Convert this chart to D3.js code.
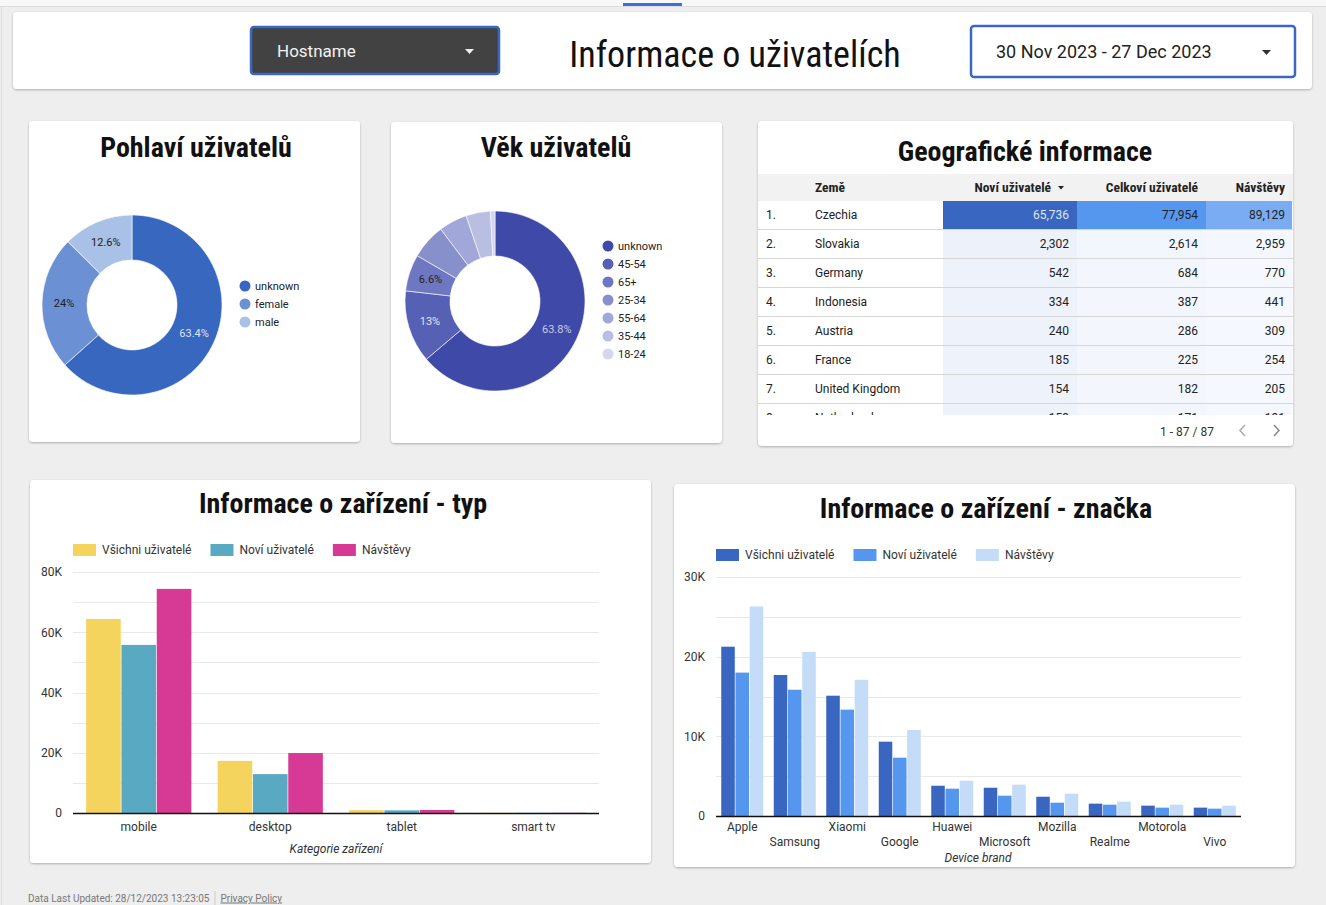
<!DOCTYPE html>
<html><head><meta charset="utf-8">
<script src="https://cdn.jsdelivr.net/npm/d3@7"></script>
<style>
html,body{margin:0;padding:0;background:#eeeeee;}
svg{display:block;}
text{font-family:Roboto,"Noto Sans",sans-serif;}
.cond{font-family:"Roboto Condensed","Liberation Sans Narrow","DejaVu Sans Condensed",sans-serif;}
</style></head><body>
<svg id="c" width="1326" height="905"></svg>
<script>
// ---------- DATA ----------
const pageTitle = "Informace o uživatelích";
const filterLabel = "Hostname";
const dateRange = "30 Nov 2023 - 27 Dec 2023";

const genderLabels = ["unknown", "female", "male"];
const genderValues = [63.4, 24.0, 12.6];

const ageLabels = ["unknown", "45-54", "65+", "25-34", "55-64", "35-44", "18-24"];
const ageValues = [63.8, 13.0, 6.6, 6.3, 5.1, 4.4, 0.8];

const geoHeaders = ["Země", "Noví uživatelé", "Celkoví uživatelé", "Návštěvy"];
const geoCountries = ["Czechia", "Slovakia", "Germany", "Indonesia", "Austria", "France", "United Kingdom", "Netherlands"];
const geoNewUsers = [65736, 2302, 542, 334, 240, 185, 154, 153];
const geoTotalUsers = [77954, 2614, 684, 387, 286, 225, 182, 171];
const geoVisits = [89129, 2959, 770, 441, 309, 254, 205, 191];
const geoPaging = "1 - 87 / 87";

const seriesNames = ["Všichni uživatelé", "Noví uživatelé", "Návštěvy"];

const deviceCategories = ["mobile", "desktop", "tablet", "smart tv"];
const deviceAll = [64400, 17300, 950, 60];
const deviceNew = [55800, 12900, 880, 50];
const deviceVisits = [74400, 19900, 1000, 70];
const deviceTicks = [0, 20000, 40000, 60000, 80000];

const brandCategories = ["Apple", "Samsung", "Xiaomi", "Google", "Huawei", "Microsoft", "Mozilla", "Realme", "Motorola", "Vivo"];
const brandAll = [21250, 17700, 15100, 9330, 3800, 3550, 2420, 1550, 1300, 1050];
const brandNew = [18000, 15850, 13350, 7320, 3430, 2550, 1670, 1420, 1050, 920];
const brandVisits = [26300, 20600, 17100, 10800, 4430, 3930, 2800, 1800, 1420, 1300];
const brandTicks = [0, 10000, 20000, 30000];

const footerText = "Data Last Updated: 28/12/2023 13:23:05";
const footerLink = "Privacy Policy";

// ---------- STYLE ----------
const genderColors = ["#3867c0", "#6b90d3", "#a9c1e6"];
const ageColors = ["#3f4aa8", "#5661b6", "#6e78c2", "#8890cc", "#a1a7d8", "#babee3", "#d3d6ee"];
const deviceColors = ["#f4d45d", "#59a9c2", "#d73a94"];
const brandColors = ["#3866c0", "#5596ee", "#c5dcf8"];
const geoColors = ["#3866c0", "#5596ee", "#79acf2"];
const geoTints = ["#eef2fa", "#f3f7fd", "#f5f8fe"];

const svg = d3.select("#c");
const defs = svg.append("defs");
const f = defs.append("filter").attr("id", "sh").attr("x", "-5%").attr("y", "-5%").attr("width", "110%").attr("height", "115%");
f.append("feDropShadow").attr("dx", 0).attr("dy", 1).attr("stdDeviation", 1).attr("flood-color", "#000").attr("flood-opacity", 0.28);

// page chrome
svg.append("rect").attr("x", 0).attr("y", 0).attr("width", 1326).attr("height", 905).attr("fill", "#eeeeee");
svg.append("rect").attr("x", 0).attr("y", 0).attr("width", 1326).attr("height", 6).attr("fill", "#f8f8f8");
svg.append("line").attr("x1", 0).attr("x2", 1326).attr("y1", 6.5).attr("y2", 6.5).attr("stroke", "#dcdcdc");
svg.append("line").attr("x1", 1.5).attr("x2", 1.5).attr("y1", 6).attr("y2", 905).attr("stroke", "#dcdcdc");
svg.append("rect").attr("x", 623).attr("y", 3).attr("width", 59).attr("height", 3).attr("fill", "#3c6fd8");

function card(x, y, w, h) {
  return svg.append("rect").attr("x", x).attr("y", y).attr("width", w).attr("height", h)
    .attr("rx", 4).attr("fill", "#fff").attr("filter", "url(#sh)");
}

// header
card(13, 12, 1299, 77);
svg.append("rect").attr("x", 251).attr("y", 27).attr("width", 248).attr("height", 47).attr("rx", 3)
  .attr("fill", "#424242").attr("stroke", "#3a67c0").attr("stroke-width", 2.5);
svg.append("text").attr("x", 277).attr("y", 51).attr("dy", "0.35em").attr("fill", "#f2f2f2")
  .style("font-size", "17px").text(filterLabel);
svg.append("path").attr("d", "M465,49 L474,49 L469.5,54 Z").attr("fill", "#eee");
svg.append("text").attr("class", "cond").attr("x", 735).attr("y", 54).attr("dy", "0.35em")
  .attr("text-anchor", "middle").attr("fill", "#111").style("font-size", "36px").text(pageTitle);
svg.append("rect").attr("x", 971).attr("y", 26).attr("width", 324).attr("height", 51).attr("rx", 3)
  .attr("fill", "#fff").attr("stroke", "#3a67c0").attr("stroke-width", 2.5);
svg.append("text").attr("x", 996).attr("y", 52).attr("dy", "0.35em").attr("fill", "#222")
  .style("font-size", "18px").text(dateRange);
svg.append("path").attr("d", "M1262,50 L1271,50 L1266.5,55 Z").attr("fill", "#333");

function cardTitle(cx, cy, t, size) {
  svg.append("text").attr("class", "cond").attr("x", cx).attr("y", cy).attr("dy", "0.35em")
    .attr("text-anchor", "middle").attr("fill", "#111").style("font-size", size + "px")
    .style("font-weight", "bold").text(t);
}
function fmtPct(v) { return (Math.round(v * 10) / 10).toString() + "%"; }

// donut
function donut(cx, cy, labels, values, colors, labelColors, minLabel, legX, legY0, legStep) {
  const g = svg.append("g").attr("transform", `translate(${cx},${cy})`);
  const pie = d3.pie().sort(null).value(d => d)(values);
  const arc = d3.arc().innerRadius(45).outerRadius(90);
  const labArc = d3.arc().innerRadius(68).outerRadius(68);
  g.selectAll("path").data(pie).join("path").attr("d", arc)
    .attr("fill", (d, i) => colors[i]).attr("stroke", "#fff").attr("stroke-width", 0.6);
  g.selectAll("text").data(pie.filter(d => d.data >= minLabel)).join("text")
    .attr("transform", d => `translate(${labArc.centroid(d)})`).attr("dy", "0.35em")
    .attr("text-anchor", "middle").style("font-size", "11px")
    .attr("fill", d => labelColors[d.index]).text(d => fmtPct(d.data));
  const lg = svg.append("g");
  labels.forEach((l, i) => {
    lg.append("circle").attr("cx", legX).attr("cy", legY0 + i * legStep).attr("r", 5.5).attr("fill", colors[i]);
    lg.append("text").attr("x", legX + 10).attr("y", legY0 + i * legStep).attr("dy", "0.35em")
      .attr("fill", "#222").style("font-size", "11px").text(l);
  });
}

card(29, 121, 331, 321);
cardTitle(196, 147, "Pohlaví uživatelů", 28);
donut(132, 305, genderLabels, genderValues, genderColors, ["#dfe4ef", "#222", "#222"], 6.5, 245, 286, 18);

card(391, 122, 331, 321);
cardTitle(556, 147, "Věk uživatelů", 28);
donut(495, 301, ageLabels, ageValues, ageColors,
  ["#c9cde6", "#e3e5f2", "#222", "#222", "#222", "#222", "#222"], 6.5, 608, 246, 18);

// geo table
card(758, 121, 535, 325);
cardTitle(1025, 151, "Geografické informace", 28);
const tg = svg.append("g");
const colEdges = [758, 943, 1077, 1206, 1293];
const rowH = 29, row0 = 201;
defs.append("clipPath").attr("id", "tclip").append("rect").attr("x", 758).attr("y", 174).attr("width", 535).attr("height", 241);
const tb = tg.append("g").attr("clip-path", "url(#tclip)");
tb.append("rect").attr("x", 758).attr("y", 174).attr("width", 535).attr("height", 27).attr("fill", "#f2f2f2");
const cols = [geoNewUsers, geoTotalUsers, geoVisits];
const fmt = d3.format(",");
geoCountries.forEach((c, r) => {
  const y = row0 + r * rowH;
  const ty = y + 14;
  cols.forEach((arr, ci) => {
    const mx = d3.max(arr);
    const t = arr[r] / mx;
    const col = t > 0.5 ? geoColors[ci] : d3.interpolateRgb(geoTints[ci], geoColors[ci])(t * 0.15);
    tb.append("rect").attr("x", colEdges[ci + 1]).attr("y", y).attr("width", colEdges[ci + 2] - colEdges[ci + 1] - (ci === 2 ? 1 : 0))
      .attr("height", rowH).attr("fill", col);
    tb.append("text").attr("x", colEdges[ci + 2] - 8).attr("y", ty).attr("dy", "0.35em")
      .attr("text-anchor", "end").style("font-size", "12px")
      .attr("fill", (t > 0.5 && ci === 0) ? "#dfe6f5" : "#222").text(fmt(arr[r]));
  });
  tb.append("text").attr("x", 766).attr("y", ty).attr("dy", "0.35em").style("font-size", "12px").attr("fill", "#222").text((r + 1) + ".");
  tb.append("text").attr("x", 815).attr("y", ty).attr("dy", "0.35em").style("font-size", "12px").attr("fill", "#222").text(c);
  tb.append("line").attr("x1", 758).attr("x2", 1293).attr("y1", y + rowH - 0.5).attr("y2", y + rowH - 0.5).attr("stroke", "#d6d6d6");
});
const hy = 187.5;
tb.append("text").attr("class", "cond").attr("x", 815).attr("y", hy).attr("dy", "0.35em").style("font-size", "13.5px").style("font-weight", "bold").attr("fill", "#222").text(geoHeaders[0]);
tb.append("text").attr("class", "cond").attr("x", 1051).attr("y", hy).attr("dy", "0.35em").attr("text-anchor", "end").style("font-size", "13.5px").style("font-weight", "bold").attr("fill", "#222").text(geoHeaders[1]);
tb.append("path").attr("d", "M1058,186 L1064,186 L1061,189.5 Z").attr("fill", "#222");
tb.append("text").attr("class", "cond").attr("x", 1198).attr("y", hy).attr("dy", "0.35em").attr("text-anchor", "end").style("font-size", "13.5px").style("font-weight", "bold").attr("fill", "#222").text(geoHeaders[2]);
tb.append("text").attr("class", "cond").attr("x", 1285).attr("y", hy).attr("dy", "0.35em").attr("text-anchor", "end").style("font-size", "13.5px").style("font-weight", "bold").attr("fill", "#222").text(geoHeaders[3]);
tg.append("text").attr("x", 1214).attr("y", 432).attr("dy", "0.35em").attr("text-anchor", "end").style("font-size", "12px").attr("fill", "#333").text(geoPaging);
tg.append("path").attr("d", "M1245,425 L1240,430.5 L1245,436").attr("fill", "none").attr("stroke", "#aaa").attr("stroke-width", 1.5);
tg.append("path").attr("d", "M1274,425 L1279,430.5 L1274,436").attr("fill", "none").attr("stroke", "#888").attr("stroke-width", 1.5);

// grouped bar chart
function barChart(o) {
  const x0 = d3.scaleBand().domain(o.cats).range([o.x0, o.x1]).paddingInner(0.2).paddingOuter(0.1);
  const x1 = d3.scaleBand().domain(d3.range(3)).range([0, x0.bandwidth()]).paddingInner(o.inner);
  const y = d3.scaleLinear().domain([0, o.max]).range([o.yb, o.yt]);
  const g = svg.append("g");
  d3.range(0, o.max + 1, o.gridStep).forEach(v => {
    if (v === 0) return;
    g.append("line").attr("x1", o.x0).attr("x2", o.x1).attr("y1", Math.round(y(v)) + 0.5).attr("y2", Math.round(y(v)) + 0.5)
      .attr("stroke", "#e9e9e9");
  });
  const ax = d3.axisLeft(y).tickValues(o.ticks).tickSize(0).tickPadding(11).tickFormat(v => v === 0 ? "0" : (v / 1000) + "K");
  const ag = g.append("g").attr("transform", `translate(${o.x0},0)`).call(ax);
  ag.select(".domain").remove();
  ag.selectAll("text").style("font-size", "12px").attr("fill", "#333").style("font-family", "Roboto,sans-serif");
  o.series.forEach((s, si) => {
    g.selectAll(null).data(s).join("rect")
      .attr("x", (d, i) => x0(o.cats[i]) + x1(si)).attr("width", x1.bandwidth())
      .attr("y", d => y(d)).attr("height", d => o.yb - y(d)).attr("fill", o.colors[si]);
  });
  g.append("line").attr("x1", o.x0).attr("x2", o.x1).attr("y1", o.yb + 0.5).attr("y2", o.yb + 0.5).attr("stroke", "#111").attr("stroke-width", 1.6);
  o.cats.forEach((c, i) => {
    g.append("text").attr("x", x0(c) + x0.bandwidth() / 2).attr("y", o.labY + (o.stagger && i % 2 ? 15 : 0))
      .attr("dy", "0.35em").attr("text-anchor", "middle").style("font-size", "12px").attr("fill", "#333").text(c);
  });
  g.append("text").attr("x", o.titleX).attr("y", o.titleY).attr("dy", "0.35em").attr("text-anchor", "middle")
    .style("font-size", "12px").style("font-style", "italic").attr("fill", "#333").text(o.axisTitle);
  let lx = o.legX;
  seriesNames.forEach((n, i) => {
    g.append("rect").attr("x", lx).attr("y", o.legY - 6).attr("width", 23).attr("height", 12).attr("fill", o.colors[i]);
    const t = g.append("text").attr("x", lx + 29).attr("y", o.legY).attr("dy", "0.35em").style("font-size", "12px").attr("fill", "#333").text(n);
    lx += 29 + t.node().getComputedTextLength() + 19;
  });
}

card(30, 480, 621, 383);
cardTitle(343, 503, "Informace o zařízení - typ", 28);
barChart({cats: deviceCategories, series: [deviceAll, deviceNew, deviceVisits], colors: deviceColors,
  x0: 73, x1: 599, yb: 813, yt: 572, max: 80000, gridStep: 10000, ticks: deviceTicks, inner: 0.02,
  labY: 827, stagger: false, axisTitle: "Kategorie zařízení", titleX: 336, titleY: 849, legX: 73, legY: 550});

card(674, 484, 621, 383);
cardTitle(986, 508, "Informace o zařízení - značka", 28);
barChart({cats: brandCategories, series: [brandAll, brandNew, brandVisits], colors: brandColors,
  x0: 716, x1: 1241, yb: 816, yt: 577, max: 30000, gridStep: 5000, ticks: brandTicks, inner: 0.05,
  labY: 827, stagger: true, axisTitle: "Device brand", titleX: 978, titleY: 858, legX: 716, legY: 555});

// footer
const ft = svg.append("text").attr("x", 28).attr("y", 898).attr("dy", "0.35em").style("font-size", "10px").attr("fill", "#777").text(footerText);
const fw = ft.node().getComputedTextLength();
svg.append("line").attr("x1", 28 + fw + 5.5).attr("x2", 28 + fw + 5.5).attr("y1", 891).attr("y2", 905).attr("stroke", "#ccc");
svg.append("text").attr("x", 28 + fw + 11).attr("y", 898).attr("dy", "0.35em").style("font-size", "10px").attr("fill", "#777")
  .style("text-decoration", "underline").text(footerLink);
</script>
</body></html>
